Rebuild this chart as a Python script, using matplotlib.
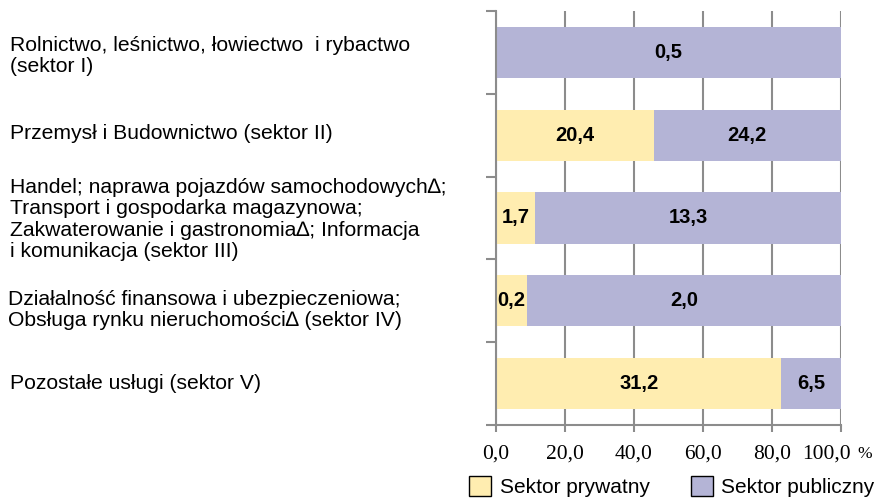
import matplotlib
matplotlib.use("Agg")
import matplotlib.pyplot as plt
import matplotlib.transforms as mtransforms
from matplotlib.patches import Patch
import numpy as np

categories = [
    "Rolnictwo, leśnictwo, łowiectwo  i rybactwo\n(sektor I)",
    "Przemysł i Budownictwo (sektor II)",
    "Handel; naprawa pojazdów samochodowych∆;\nTransport i gospodarka magazynowa;\nZakwaterowanie i gastronomia∆; Informacja\ni komunikacja (sektor III)",
    "Działalność finansowa i ubezpieczeniowa;\nObsługa rynku nieruchomości∆ (sektor IV)",
    "Pozostałe usługi (sektor V)",
]
private = [0.0, 20.4, 1.7, 0.2, 31.2]
public = [0.5, 24.2, 13.3, 2.0, 6.5]
series_names = ["Sektor prywatny", "Sektor publiczny"]
xticks = [0, 20, 40, 60, 80, 100]
xtick_labels = ["0,0", "20,0", "40,0", "60,0", "80,0", "100,0"]

# small vertical nudges of the category labels (style only)
label_dy = [0.045, -0.025, 0.02, 0.11, 0.0]
label_x = [0.011, 0.011, 0.011, 0.009, 0.011]

c_priv = "#FFEDB0"
c_pub = "#B4B4D6"
grid_c = "#8C8C8C"

plt.rcParams["font.family"] = ["Liberation Sans", "DejaVu Sans"]

fig = plt.figure(figsize=(8.83, 4.98), dpi=100)
ax = fig.add_axes([0.5617, 0.1466, 0.3907, 0.8313])

priv = np.array(private)
pub = np.array(public)
tot = priv + pub
p_priv = priv / tot * 100
p_pub = pub / tot * 100
y = np.arange(len(categories))

ax.barh(y, p_priv, height=0.62, color=c_priv, zorder=2)
ax.barh(y, p_pub, left=p_priv, height=0.62, color=c_pub, zorder=2)

def fmt(v):
    return f"{v:.1f}".replace(".", ",")

for i in range(len(y)):
    if priv[i] > 0:
        ax.text(p_priv[i] / 2, y[i], fmt(priv[i]), ha="center", va="center",
                fontsize=14.5, fontweight="bold", zorder=3)
    if pub[i] > 0:
        ax.text(p_priv[i] + p_pub[i] / 2, y[i], fmt(pub[i]), ha="center", va="center",
                fontsize=14.5, fontweight="bold", zorder=3)

ax.set_xlim(0, 100)
ax.set_ylim(len(categories) - 0.5, -0.5)
ax.set_xticks(xticks)
ax.set_xticklabels(xtick_labels, family="Liberation Serif", fontsize=15.5)
ax.set_yticks(np.arange(-0.5, len(categories), 1.0))
ax.set_yticklabels([])
ax.tick_params(axis="y", direction="out", length=7, width=1.5, color=grid_c)
ax.tick_params(axis="x", direction="out", length=5, width=1.5, color=grid_c, pad=9)
ax.xaxis.grid(True, color=grid_c, linewidth=1.5)
ax.set_axisbelow(True)
for s in ["top", "right"]:
    ax.spines[s].set_visible(False)
for s in ["left", "bottom"]:
    ax.spines[s].set_color(grid_c)
    ax.spines[s].set_linewidth(1.5)

# shift the last tick label left so that "100,0 %" is centred on the tick
last = ax.get_xticklabels()[-1]
last.set_transform(last.get_transform() +
                   mtransforms.ScaledTranslation(-14 / 100, 0, fig.dpi_scale_trans))
ax.text(1.0, 0.0, "%",
        transform=ax.transAxes + mtransforms.ScaledTranslation(16 / 100, -33.5 / 100, fig.dpi_scale_trans),
        ha="left", va="baseline", family="Liberation Serif", fontsize=12.5)

# category labels at left
trans = mtransforms.blended_transform_factory(fig.transFigure, ax.transData)
for i, lab in enumerate(categories):
    ax.text(label_x[i], y[i] + label_dy[i], lab, transform=trans, ha="left", va="center",
            fontsize=15.2, linespacing=1.17)

handles = [Patch(facecolor=c_priv, edgecolor="black", linewidth=1.0),
           Patch(facecolor=c_pub, edgecolor="black", linewidth=1.0)]
fig.legend(handles, series_names, loc="lower right", bbox_to_anchor=(1.0, -0.014),
           ncol=2, frameon=False, fontsize=15, handlelength=1.05, handleheight=1.1,
           handletextpad=0.4, columnspacing=2.0, borderaxespad=0.0)

fig.savefig("out.png", dpi=100)
